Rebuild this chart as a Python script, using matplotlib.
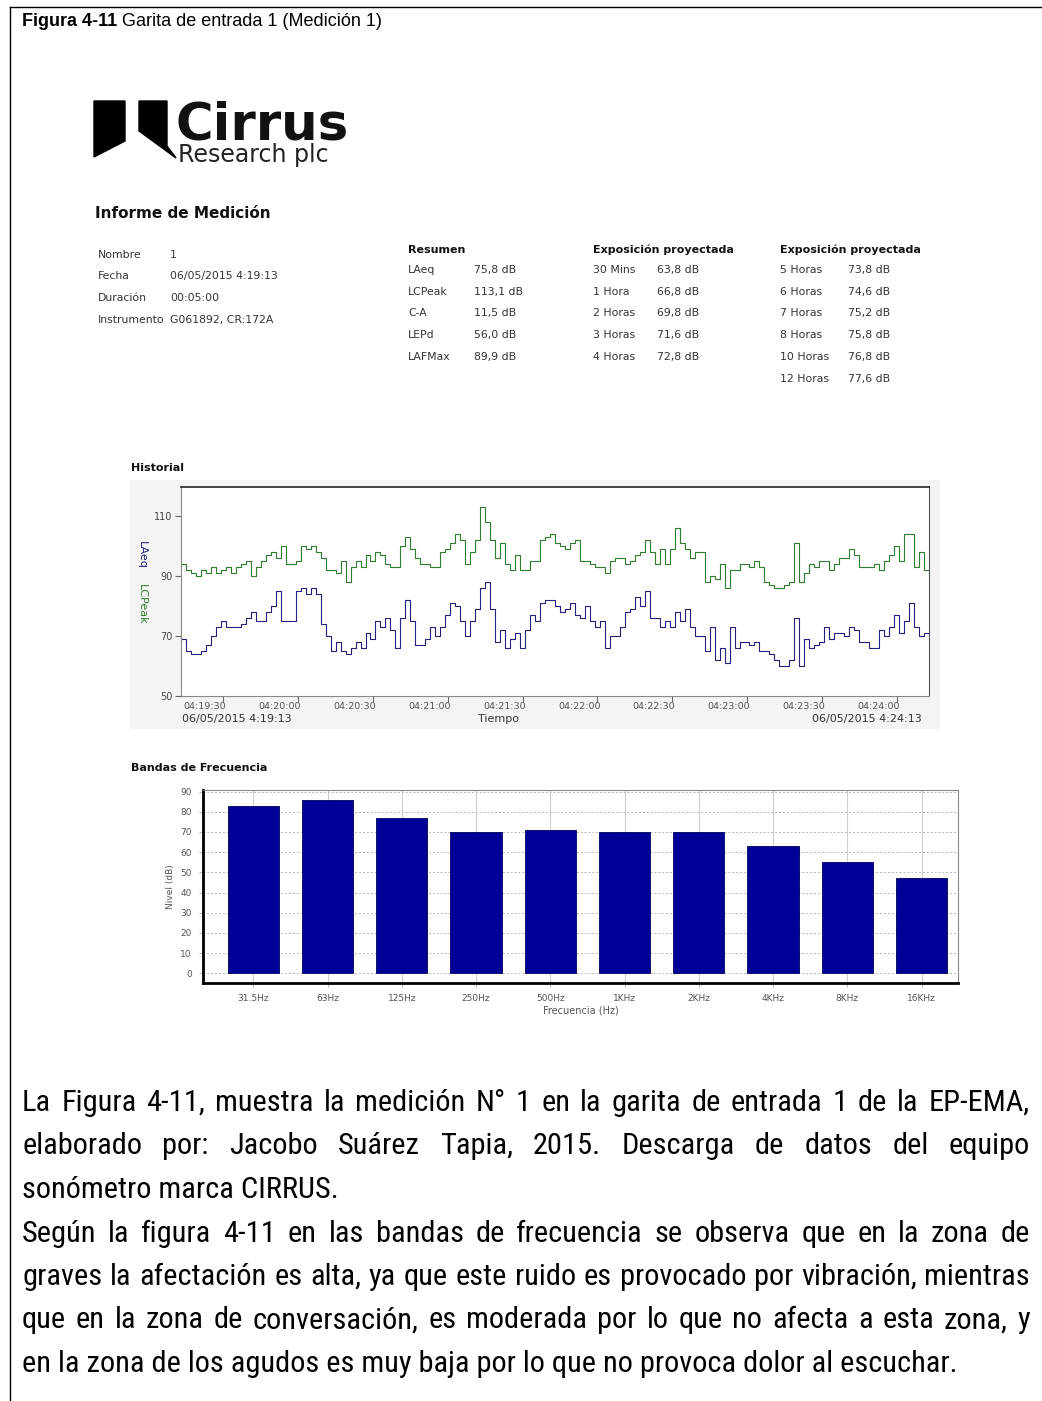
import matplotlib
matplotlib.use("Agg")
import matplotlib.pyplot as plt
from matplotlib.patches import Polygon, Rectangle
from matplotlib.transforms import ScaledTranslation
from matplotlib import font_manager

W, H, DPI = 1042, 1401, 100

# ---------------- data ----------------
start_time = "04:19:13"
step_s = 2  # logging interval of the history traces (s)

lcpeak = [94, 92, 91, 90, 92, 91, 93, 91, 92, 93,
          91, 93, 94, 95, 90, 93, 95, 97, 98, 96,
          100, 94, 94, 95, 100, 99, 100, 98, 96, 92,
          92, 91, 95, 88, 93, 95, 93, 97, 95, 98,
          97, 94, 93, 93, 100, 103, 99, 96, 94, 94,
          93, 93, 98, 99, 101, 104, 102, 94, 98, 102,
          113, 108, 102, 96, 101, 94, 92, 97, 92, 92,
          95, 95, 102, 103, 104, 101, 100, 99, 101, 102,
          95, 95, 94, 93, 93, 91, 95, 96, 96, 94,
          95, 97, 98, 102, 98, 94, 99, 94, 99, 106,
          101, 99, 96, 98, 98, 88, 90, 89, 94, 86,
          92, 92, 94, 94, 93, 95, 93, 88, 87, 86,
          86, 87, 88, 101, 88, 91, 94, 93, 95, 95,
          92, 94, 96, 96, 99, 97, 93, 93, 93, 94,
          92, 95, 97, 100, 95, 104, 104, 93, 98, 92]

laeq = [69, 65, 64, 64, 65, 67, 70, 73, 75, 73,
        73, 73, 74, 76, 78, 75, 75, 78, 80, 85,
        75, 75, 75, 85, 86, 84, 86, 84, 74, 70,
        65, 68, 65, 64, 66, 68, 66, 71, 69, 75,
        73, 76, 72, 66, 76, 82, 75, 67, 67, 69,
        73, 70, 73, 77, 81, 80, 75, 70, 75, 79,
        86, 88, 79, 68, 72, 66, 69, 71, 66, 72,
        77, 75, 81, 82, 82, 80, 78, 79, 81, 77,
        76, 80, 75, 73, 75, 66, 70, 70, 73, 78,
        79, 83, 80, 85, 76, 76, 73, 75, 73, 78,
        75, 79, 73, 70, 70, 65, 73, 62, 66, 61,
        73, 66, 68, 68, 67, 68, 65, 65, 64, 62,
        60, 60, 62, 76, 60, 69, 66, 67, 68, 73,
        69, 71, 71, 70, 73, 72, 68, 68, 66, 66,
        72, 70, 73, 77, 71, 75, 81, 73, 70, 71]

time_ticks = ["04:19:30", "04:20:00", "04:20:30", "04:21:00", "04:21:30",
              "04:22:00", "04:22:30", "04:23:00", "04:23:30", "04:24:00"]
level_ticks = [50, 70, 90, 110]

bands = ["31.5Hz", "63Hz", "125Hz", "250Hz", "500Hz",
         "1KHz", "2KHz", "4KHz", "8KHz", "16KHz"]
band_levels = [83, 86, 77, 70, 71, 70, 70, 63, 55, 47]

info_labels = ["Nombre", "Fecha", "Duración", "Instrumento"]
info_values = ["1", "06/05/2015 4:19:13", "00:05:00", "G061892, CR:172A"]

summary_labels = ["LAeq", "LCPeak", "C-A", "LEPd", "LAFMax"]
summary_values = ["75,8 dB", "113,1 dB", "11,5 dB", "56,0 dB", "89,9 dB"]

exp1_labels = ["30 Mins", "1 Hora", "2 Horas", "3 Horas", "4 Horas"]
exp1_values = ["63,8 dB", "66,8 dB", "69,8 dB", "71,6 dB", "72,8 dB"]
exp2_labels = ["5 Horas", "6 Horas", "7 Horas", "8 Horas", "10 Horas", "12 Horas"]
exp2_values = ["73,8 dB", "74,6 dB", "75,2 dB", "75,8 dB", "76,8 dB", "77,6 dB"]

paragraph = [
    ("La Figura 4-11, muestra la medición N° 1 en la garita de entrada 1 de la EP-EMA,", True),
    ("elaborado por: Jacobo Suárez Tapia, 2015. Descarga de datos del equipo", True),
    ("sonómetro marca CIRRUS.", False),
    ("Según la figura 4-11 en las bandas de frecuencia se observa que en la zona de", True),
    ("graves la afectación es alta, ya que este ruido es provocado por vibración, mientras", True),
    ("que en la zona de conversación, es moderada por lo que no afecta a esta zona, y", True),
    ("en la zona de los agudos es muy baja por lo que no provoca dolor al escuchar.", False),
]


def secs(hms):
    h, m, s = (int(v) for v in hms.split(":"))
    return h * 3600 + m * 60 + s


def pick_narrow_font():
    """Return (family, stretch) for a condensed sans face if one is installed."""
    names = {f.name: f.stretch for f in font_manager.fontManager.ttflist}
    for fam in ["Liberation Sans Narrow", "Arial Narrow", "Roboto Condensed",
                "Open Sans Condensed", "Noto Sans Condensed"]:
        if fam in names:
            return fam, "normal"
    for f in font_manager.fontManager.ttflist:
        if f.name in ("Roboto", "Open Sans", "Noto Sans") and \
                str(f.stretch) in ("condensed", "semi-condensed", "75", "87.5"):
            return f.name, "condensed"
    return "Liberation Sans", "normal"


# ---------------- page ----------------
fig = plt.figure(figsize=(W / DPI, H / DPI), dpi=DPI)
page = fig.add_axes([0, 0, 1, 1], zorder=0)
page.set_xlim(0, W)
page.set_ylim(H, 0)
page.axis("off")


def rect(l, t, r, b):
    return [l / W, 1 - b / H, (r - l) / W, (b - t) / H]


ARIAL = "Liberation Sans"
NARROW, NARROW_STRETCH = pick_narrow_font()
UI = "DejaVu Sans"

# frame around the figure block (left and top edges)
page.plot([10, 10], [7, H], color="black", lw=1.0)
page.plot([10, W], [7, 7], color="black", lw=1.0)

# caption
t1 = page.text(22, 21, "Figura 4-11", fontsize=13, fontweight="bold",
               family=ARIAL, va="center", ha="left")
fig.canvas.draw()
r = fig.canvas.get_renderer()
bb = t1.get_window_extent(r)
page.text(22 + bb.width + 5, 21, "Garita de entrada 1 (Medición 1)", fontsize=13,
          family=ARIAL, va="center", ha="left")

# logo
page.add_patch(Polygon([(94, 101), (125, 101), (125, 141), (94, 157)],
                       closed=True, color="black", zorder=2))
page.add_patch(Polygon([(139, 101), (167, 101), (167, 146), (176, 158), (139, 131)],
                       closed=True, color="black", zorder=2))
page.text(176, 139, "Cirrus", fontsize=37, fontweight="bold", family=UI,
          va="baseline", ha="left", color="#111111")
page.text(178, 162, "Research plc", fontsize=17, family=UI, va="baseline",
          ha="left", color="#222222")

# measurement report block
page.text(95, 213, "Informe de Medición", fontsize=11, fontweight="bold",
          family=UI, va="center", ha="left", color="#111111")
info_y = [255, 276, 298, 320]
for lab, val, y in zip(info_labels, info_values, info_y):
    page.text(98, y, lab, fontsize=7.8, family=UI, va="center", color="#333333")
    page.text(170, y, val, fontsize=7.8, family=UI, va="center", color="#333333")

row_y = [270, 292, 313, 335, 357, 379]
page.text(408, 250, "Resumen", fontsize=8, fontweight="bold", family=UI,
          va="center", color="#111111")
for lab, val, y in zip(summary_labels, summary_values, row_y):
    page.text(408, y, lab, fontsize=7.8, family=UI, va="center", color="#333333")
    page.text(474, y, val, fontsize=7.8, family=UI, va="center", color="#333333")

page.text(593, 250, "Exposición proyectada", fontsize=8, fontweight="bold",
          family=UI, va="center", color="#111111")
page.text(780, 250, "Exposición proyectada", fontsize=8, fontweight="bold",
          family=UI, va="center", color="#111111")
for lab, val, y in zip(exp1_labels, exp1_values, row_y):
    page.text(593, y, lab, fontsize=7.8, family=UI, va="center", color="#333333")
    page.text(657, y, val, fontsize=7.8, family=UI, va="center", color="#333333")
for lab, val, y in zip(exp2_labels, exp2_values, row_y):
    page.text(780, y, lab, fontsize=7.8, family=UI, va="center", color="#333333")
    page.text(848, y, val, fontsize=7.8, family=UI, va="center", color="#333333")

# ---------------- history chart ----------------
page.text(131, 468, "Historial", fontsize=8, fontweight="bold", family=UI,
          va="center", color="#111111")
page.add_patch(Rectangle((130, 480), 810, 249, facecolor="#f4f4f4",
                         edgecolor="none", zorder=0))

ax1 = fig.add_axes(rect(181, 486.5, 929, 695.5), zorder=2)
t0 = secs(start_time)
n = len(laeq)
t_edges = [i * step_s for i in range(n + 1)]
ax1.step(t_edges, lcpeak + lcpeak[-1:], where="post", color="#2f7d2f", lw=0.8)
ax1.step(t_edges, laeq + laeq[-1:], where="post", color="#22227e", lw=0.8)
ax1.set_xlim(0, n * step_s)
ax1.set_ylim(50, 120)
ax1.set_yticks(level_ticks)
ax1.set_yticklabels([str(v) for v in level_ticks], fontsize=7, family=UI,
                    color="#444444")
tick_pos = [secs(s) - t0 for s in time_ticks]
ax1.set_xticks(tick_pos)
ax1.tick_params(axis="x", labelbottom=False)
below = ax1.get_xaxis_transform() + ScaledTranslation(3 / DPI, -11 / DPI,
                                                      fig.dpi_scale_trans)
for pos, lab in zip(tick_pos, time_ticks):
    ax1.text(pos, 0, lab, transform=below, fontsize=6.8, family=UI,
             color="#555555", ha="right", va="center", clip_on=False)
ax1.tick_params(axis="both", direction="out", length=4, width=0.8,
                color="#666666", pad=2)
ax1.spines["top"].set_color("#222222")
ax1.spines["top"].set_linewidth(1.2)
ax1.spines["right"].set_color("#555555")
ax1.spines["left"].set_color("#888888")
ax1.spines["bottom"].set_color("#888888")

page.text(142, 555, "LAeq", rotation=270, fontsize=8, family=UI,
          color="#22227e", va="center", ha="center")
page.text(142, 604, "LCPeak", rotation=270, fontsize=8, family=UI,
          color="#2f7d2f", va="center", ha="center")
page.text(182, 719, "06/05/2015 4:19:13", fontsize=8, family=UI,
          color="#333333", va="center", ha="left")
page.text(478, 719, "Tiempo", fontsize=8, family=UI, color="#333333",
          va="center", ha="left")
page.text(922, 719, "06/05/2015 4:24:13", fontsize=8, family=UI,
          color="#333333", va="center", ha="right")

# ---------------- frequency band chart ----------------
page.text(131, 768, "Bandas de Frecuencia", fontsize=8, fontweight="bold",
          family=UI, va="center", color="#111111")
ax2 = fig.add_axes(rect(203, 790, 958, 983), zorder=2)
xpos = list(range(len(bands)))
ax2.bar(xpos, band_levels, width=0.69, color="#000096", edgecolor="#00005a",
        linewidth=0.6, zorder=3)
ax2.set_xlim(-0.677, 9.49)
ax2.set_ylim(-4.8, 90.8)
ax2.set_yticks(range(0, 91, 10))
ax2.set_yticklabels([str(v) for v in range(0, 91, 10)], fontsize=6.5,
                    family=UI, color="#555555")
ax2.set_xticks(xpos)
ax2.set_xticklabels(bands, fontsize=6.5, family=UI, color="#555555")
ax2.yaxis.grid(True, linestyle=(0, (2, 2)), color="#b8b8b8", lw=0.7, zorder=0)
ax2.xaxis.grid(True, linestyle="-", color="#cfcfcf", lw=0.8, zorder=0)
ax2.set_axisbelow(True)
ax2.tick_params(axis="both", direction="out", length=3, width=0.6,
                color="#aaaaaa", pad=5)
ax2.spines["left"].set_linewidth(2.0)
ax2.spines["bottom"].set_linewidth(2.0)
ax2.spines["left"].set_color("black")
ax2.spines["bottom"].set_color("black")
ax2.spines["top"].set_color("#888888")
ax2.spines["right"].set_color("#888888")
ax2.set_ylabel("Nivel (dB)", fontsize=6.5, family=UI, color="#555555",
               labelpad=4)
ax2.set_xlabel("Frecuencia (Hz)", fontsize=7, family=UI, color="#555555",
               labelpad=2)

# ---------------- paragraph ----------------
fig.canvas.draw()
r = fig.canvas.get_renderer()
probe = page.text(0, 0, paragraph[-1][0], fontsize=10, family=NARROW,
                  fontstretch=NARROW_STRETCH)
pw = probe.get_window_extent(r).width
probe.remove()
fs = 10 * 933 / pw

left, right = 22, 1030
y0, dy = 1103, 43.5
for k, (line, justify) in enumerate(paragraph):
    y = y0 + k * dy
    kw = dict(fontsize=fs, family=NARROW, fontstretch=NARROW_STRETCH,
              va="center", ha="left", color="black")
    if not justify:
        page.text(left, y, line, **kw)
        continue
    words = line.split(" ")
    objs = [page.text(0, y, w, **kw) for w in words]
    widths = [o.get_window_extent(r).width for o in objs]
    gap = (right - left - sum(widths)) / (len(words) - 1)
    x = left
    for o, w in zip(objs, widths):
        o.set_x(x)
        x += w + gap

fig.savefig("out.png", dpi=DPI)
